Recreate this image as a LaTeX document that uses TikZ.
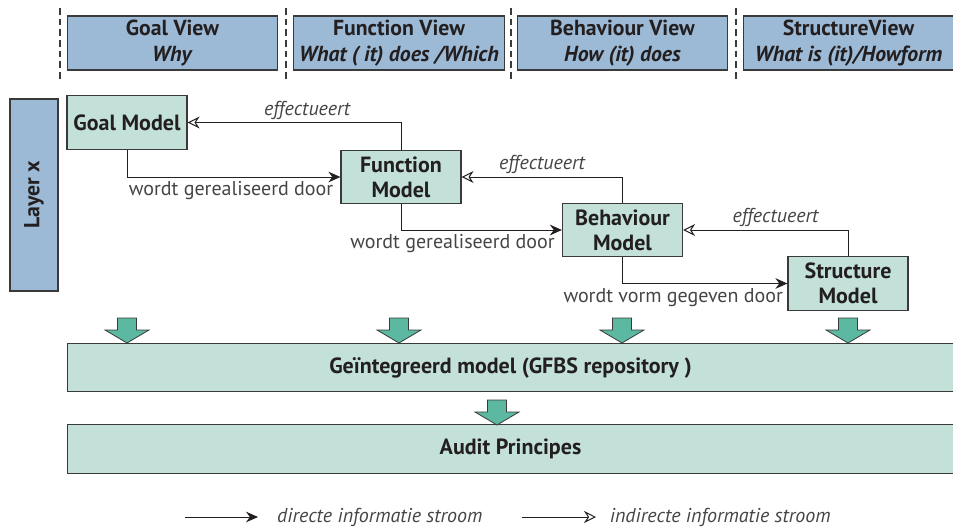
\documentclass[tikz,border=0pt]{standalone}
\usepackage{fontspec}
\setmainfont{PT Sans}
\usetikzlibrary{arrows.meta,positioning}
\definecolor{ViewBlue}{HTML}{9CBAD6}
\definecolor{ModelGreen}{HTML}{C3E1D9}
\definecolor{FlowGreen}{HTML}{5CB8A0}
\definecolor{Edge}{HTML}{3A3A3A}
\definecolor{Ink}{HTML}{231F20}
\definecolor{Soft}{HTML}{454545}
\tikzset{
  every node/.append style={text=Ink},
  view/.style={draw=Edge, line width=0.9pt, fill=ViewBlue, align=center,
               minimum width=158pt, minimum height=40.5pt, inner sep=1pt,
               font=\bfseries\fontsize{16.3}{19.5}\selectfont},
  model/.style={draw=Edge, line width=0.9pt, fill=ModelGreen, align=center,
                minimum width=90pt, minimum height=40pt, inner sep=1pt,
                font=\bfseries\fontsize{16.5}{18.8}\selectfont},
  band/.style={model, minimum width=665pt, minimum height=36.5pt},
  direct/.style={-{Stealth[length=9pt,width=8pt]}, line width=0.75pt, draw=Ink},
  indirect/.style={-{Stealth[open,length=9pt,width=9pt]}, line width=0.75pt, draw=Ink},
  lbl/.style={font=\fontsize{15}{17}\selectfont, text=Soft, inner sep=2pt},
  ilbl/.style={lbl, font=\itshape\fontsize{15}{17}\selectfont},
  flow/.style={draw=Edge, line width=0.6pt, fill=FlowGreen},
  sep/.style={draw=Edge, line width=0.9pt, dash pattern=on 5pt off 3pt},
}
\begin{document}
\begin{tikzpicture}[x=0.75pt, y=-0.75pt]
  \useasboundingbox (0,0) rectangle (953,529);

  % view columns
  \foreach \x in {60,286,511,736}
    \draw[sep] (\x,8) -- (\x,82);
  \node[view] (goalview)   at (172.5,43) {Goal View\\\textit{Why}};
  \node[view] (funcview)   at (399,43)   {Function View\\\textit{What ( it) does /Which}};
  \node[view] (behview)    at (622.5,43) {Behaviour View\\\textit{How (it) does}};
  \node[view] (structview) at (848.5,43) {StructureView\\\textit{What is (it)/Howform}};

  \node[view, minimum width=36pt, minimum height=144pt] (layer) at (34,195)
    {\rotatebox{90}{Layer x}};

  % models
  \node[model] (goal)   at (127,122.5) {Goal Model};
  \node[model] (func)   at (401,177)   {Function\\Model};
  \node[model] (behav)  at (622.5,230) {Behaviour\\Model};
  \node[model] (struct) at (848,283.5) {Structure\\Model};

  \draw[direct] (goal.south) |- (func.west)
    node[lbl, pos=1, anchor=north east, xshift=-3pt, yshift=-1pt] {wordt gerealiseerd door};
  \draw[direct] (func.south) |- (behav.west)
    node[lbl, pos=1, anchor=north east, xshift=-3pt, yshift=-1pt] {wordt gerealiseerd door};
  \draw[direct] (behav.south) |- (struct.west)
    node[lbl, pos=1, anchor=north east, xshift=-1pt, yshift=-1pt] {wordt vorm gegeven door};

  \draw[indirect] (func.north) |- (goal.east) node[ilbl, pos=0.72, above] {effectueert};
  \draw[indirect] (behav.north) |- (func.east) node[ilbl, pos=0.75, above] {effectueert};
  \draw[indirect] (struct.north) |- (behav.east) node[ilbl, pos=0.72, above] {effectueert};

  % repository
  \node[band] (integr) at (510.5,367.5) {Geïntegreerd model (GFBS repository )};
  \node[band] (audit)  at (510.5,449)   {Audit Principes};

  \foreach \x in {127,399,622,848}
    \draw[flow] (\x-9.5,318) -- (\x+9.5,318) -- (\x+9.5,330) -- (\x+22,330)
      -- (\x,343) -- (\x-22,330) -- (\x-9.5,330) -- cycle;
  \draw[flow] (487.5,400) -- (506.5,400) -- (506.5,412) -- (519,412)
    -- (497,425) -- (475,412) -- (487.5,412) -- cycle;

  % legend
  \coordinate (d1) at (185,517);
  \coordinate (d2) at (258,517);
  \coordinate (i1) at (522,517);
  \coordinate (i2) at (596,517);
  \draw[direct] (d1) -- (d2) node[ilbl, right=12pt] {directe informatie stroom};
  \draw[indirect] (i1) -- (i2) node[ilbl, right=8pt] {indirecte informatie stroom};
\end{tikzpicture}
\end{document}
